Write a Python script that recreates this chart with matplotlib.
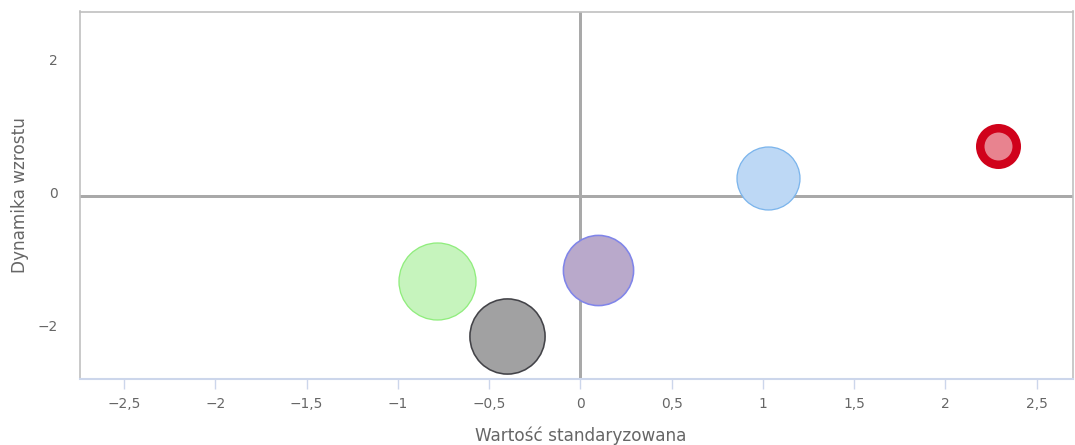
import matplotlib
matplotlib.use("Agg")
import matplotlib.pyplot as plt
import matplotlib.transforms as mtransforms
import numpy as np

plt.rcParams["font.family"] = ["DejaVu Sans"]

# ---- data ----
series_names = ["Czerwony", "Niebieski", "Fioletowy", "Zielony", "Szary"]
x_vals = [2.288, 1.026, 0.094, -0.785, -0.404]
y_vals = [0.75, 0.27, -1.12, -1.28, -2.11]
z_vals = [3.3, 9.9, 12.3, 14.8, 14.1]
x_ticks = [-2.5, -2.0, -1.5, -1.0, -0.5, 0.0, 0.5, 1.0, 1.5, 2.0, 2.5]
y_ticks = [-2, 0, 2]
x_title = "Wartość standaryzowana"
y_title = "Dynamika wzrostu"

# ---- styles ----
fill_colors = ["#e8838f", "#bdd8f5", "#b9a9cb", "#c6f4bd", "#a1a1a2"]
edge_colors = ["#d0021b", "#7cb5ec", "#8085e9", "#90ed7d", "#434348"]
edge_widths_px = [8.5, 1.3, 1.6, 1.3, 1.6]

W, H, DPI = 1075, 445, 100
fig = plt.figure(figsize=(W / DPI, H / DPI), dpi=DPI)
fig.patch.set_facecolor("white")

left, right, top, bottom = 80, 1073, 11.5, 379
ax = fig.add_axes([left / W, (H - bottom) / H, (right - left) / W, (bottom - top) / H])
ax.set_xlim(-2.742, 2.699)
ax.set_ylim(-2.75, 2.77)

px2pt = 72.0 / DPI
zmax = max(z_vals)
rmax_px = 38.5

# zero lines
ax.axvline(0, color="#a9a9a9", lw=3 * px2pt, zorder=1)
ax.axhline(0, color="#a9a9a9", lw=3 * px2pt, zorder=1)

for i in range(len(x_vals)):
    r_px = rmax_px * np.sqrt(z_vals[i] / zmax)
    if i == 0:
        r_px = 18.25
    d_pt = 2 * r_px * px2pt
    ax.scatter([x_vals[i]], [y_vals[i]], s=d_pt ** 2, c=fill_colors[i],
               edgecolors=edge_colors[i], linewidths=edge_widths_px[i] * px2pt,
               zorder=3 + i)

def fmt(v):
    s = ("%g" % abs(v)).replace(".", ",")
    return ("\u2212" + s) if v < 0 else s

ax.set_xticks(x_ticks)
ax.set_xticklabels([fmt(v) for v in x_ticks])
ax.set_yticks(y_ticks)
ax.set_yticklabels([fmt(v) for v in y_ticks])

ax.tick_params(axis="x", direction="out", length=10 * px2pt, width=1, color="#ccd6eb",
               labelcolor="#666666", labelsize=9.9, pad=8 * px2pt)
ax.tick_params(axis="y", length=0, labelcolor="#666666", labelsize=9.9, pad=22 * px2pt)

shift = mtransforms.ScaledTranslation(0, 3.5 / DPI, fig.dpi_scale_trans)
for lbl in ax.get_yticklabels():
    lbl.set_transform(lbl.get_transform() + shift)

for side in ["top", "left", "right"]:
    ax.spines[side].set_color("#c0c0c0")
    ax.spines[side].set_linewidth(1.2)
ax.spines["bottom"].set_color("#ccd6eb")
ax.spines["bottom"].set_linewidth(1.5)

fig.text(580.5 / W, 1 - 436 / H, x_title, ha="center", va="center",
         color="#666666", fontsize=12.2)
fig.text(20 / W, 1 - 195 / H, y_title, ha="center", va="center", rotation=90,
         color="#666666", fontsize=12.2)

fig.savefig("out.png", dpi=DPI, facecolor="white")
